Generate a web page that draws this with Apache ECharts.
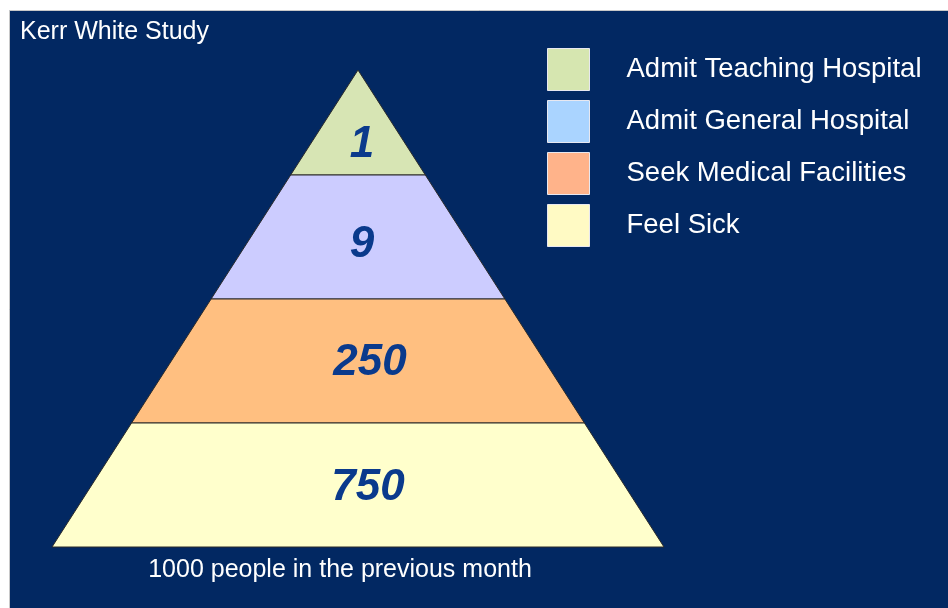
<!DOCTYPE html>
<html>
<head>
<meta charset="utf-8">
<script src="https://cdn.jsdelivr.net/npm/echarts@6/dist/echarts.min.js"></script>
<style>html,body{margin:0;padding:0;background:#fff}#c{width:948px;height:608px}</style>
</head>
<body>
<div id="c"></div>
<script>
// Data
const categories = ['Admit Teaching Hospital', 'Admit General Hospital', 'Seek Medical Facilities', 'Feel Sick'];
const counts = [1, 9, 250, 750];
const bandColors = ['#d7e5b4', '#ccccff', '#ffbf80', '#ffffcc'];
const legendColors = ['#d6e6b0', '#aad4ff', '#ffb38a', '#fffac4'];
const titleText = 'Kerr White Study';
const footText = '1000 people in the previous month';

// Drawing settings
const APEX = 477 / 124; // apex level (bands are one unit tall; top band truncated by apex)
const FONT = 'Liberation Sans, Arial, sans-serif';
const labelNudge = [[4, 5], [4, 8], [12, 2], [10, 3]];

function renderItem(params, api) {
  const level = api.value(0);
  const idx = api.value(2);
  const top = Math.min(level + 1, APEX);
  const hw = l => (APEX - l) / APEX;
  const pts = [
    api.coord([-hw(level), level]),
    api.coord([hw(level), level]),
    api.coord([hw(top), top]),
    api.coord([-hw(top), top])
  ];
  const ly = top >= APEX ? level + (APEX - level) / 3 : level + 0.5;
  const lp = api.coord([0, ly]);
  const nd = labelNudge[idx];
  return {
    type: 'group',
    children: [
      { type: 'polygon', shape: { points: pts },
        style: { fill: api.visual('color'), stroke: '#2a2a2a', lineWidth: 1 } },
      { type: 'text', x: lp[0] + nd[0], y: lp[1] + nd[1],
        style: { text: String(api.value(1)), align: 'center', verticalAlign: 'middle',
          fill: '#0a3a8c', fontSize: 44, fontWeight: 'bold', fontStyle: 'italic', fontFamily: FONT } }
    ]
  };
}

const series = categories.map((name, i) => ({
  type: 'custom',
  name: name,
  renderItem: renderItem,
  clip: false,
  itemStyle: { color: bandColors[i] },
  data: [[categories.length - 1 - i, counts[i], i]]
}));

const chart = echarts.init(document.getElementById('c'), null, { renderer: 'canvas' });
chart.setOption({
  backgroundColor: '#ffffff',
  animation: false,
  title: {
    text: titleText, left: 20, top: 20, padding: 0,
    textStyle: { color: '#ffffff', fontSize: 25, fontWeight: 'normal', fontFamily: FONT }
  },
  graphic: [
    { type: 'rect', z: -10, silent: true,
      shape: { x: 9.5, y: 10.5, width: 948, height: 608 },
      style: { fill: '#022862', stroke: '#c8c8c8', lineWidth: 1 } },
    { type: 'text', z: 10, x: 340, y: 570,
      style: { text: footText, align: 'center', verticalAlign: 'middle', fill: '#ffffff',
        fontSize: 25, fontFamily: FONT } }
  ],
  legend: {
    orient: 'vertical', left: 547, top: 48, padding: 0,
    itemWidth: 42, itemHeight: 42, itemGap: 9,
    selectedMode: false, icon: 'rect',
    itemStyle: { borderColor: '#e8e8f0', borderWidth: 1 },
    textStyle: { color: '#ffffff', fontSize: 27.5, fontFamily: FONT, padding: [0, 0, 4, 32] },
    data: categories.map((n, i) => ({ name: n, itemStyle: { color: legendColors[i], borderColor: '#e8e8f0', borderWidth: 1 } }))
  },
  grid: { left: 52, right: 284, top: 70, bottom: 61 },
  xAxis: { type: 'value', min: -1, max: 1, show: false },
  yAxis: { type: 'value', min: 0, max: APEX, show: false },
  series: series
});
</script>
</body>
</html>
